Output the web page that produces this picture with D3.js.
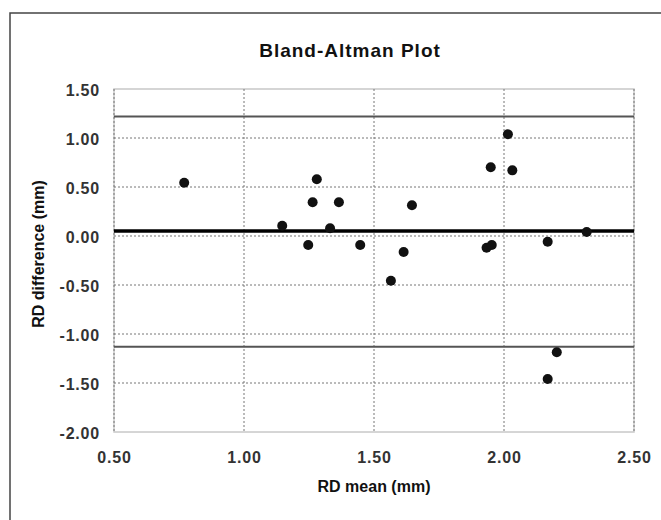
<!DOCTYPE html>
<html>
<head>
<meta charset="utf-8">
<script src="https://cdn.jsdelivr.net/npm/d3@7"></script>
<style>
  html, body { margin: 0; padding: 0; background: #fff; }
  svg { display: block; }
  text { font-family: "Liberation Sans", Arial, sans-serif; }
</style>
</head>
<body>
<svg id="chart" width="661" height="520"></svg>
<script>
// ---- data ----
const title = "Bland-Altman Plot";
const xLabel = "RD mean (mm)";
const yLabel = "RD difference (mm)";
const meanValues = [0.77, 1.147, 1.247, 1.264, 1.28, 1.331, 1.365, 1.447, 1.565, 1.614, 1.646,
                    1.933, 1.953, 1.949, 2.015, 2.032, 2.168, 2.318, 2.203, 2.168];
const diffValues = [0.544, 0.105, -0.092, 0.344, 0.579, 0.079, 0.344, -0.092, -0.456, -0.163, 0.313,
                    -0.119, -0.092, 0.701, 1.038, 0.67, -0.058, 0.041, -1.187, -1.459];
const meanDiff = 0.05;
const upperLimit = 1.22;
const lowerLimit = -1.13;
const xTicks = [0.5, 1.0, 1.5, 2.0, 2.5];
const yTicks = [1.5, 1.0, 0.5, 0.0, -0.5, -1.0, -1.5, -2.0];

// ---- layout ----
const svg = d3.select("#chart");
const plot = { left: 114, right: 634, top: 89, bottom: 432 };

const x = d3.scaleLinear().domain([0.5, 2.5]).range([plot.left, plot.right]);
const y = d3.scaleLinear().domain([-2.0, 1.5]).range([plot.bottom, plot.top]);
const fmt = d => d.toFixed(2);  // plain hyphen-minus like the original

// outer frame (extends past the visible window on right/bottom)
svg.append("rect")
  .attr("x", 10).attr("y", 13).attr("width", 700).attr("height", 560)
  .attr("fill", "none").attr("stroke", "#444").attr("stroke-width", 1.5);

// title
svg.append("text")
  .attr("x", 350).attr("y", 57)
  .attr("text-anchor", "middle")
  .attr("font-size", 19).attr("font-weight", "bold")
  .attr("letter-spacing", 1)
  .attr("fill", "#111")
  .text(title);

// plot border
svg.append("rect")
  .attr("x", plot.left).attr("y", plot.top)
  .attr("width", plot.right - plot.left).attr("height", plot.bottom - plot.top)
  .attr("fill", "none").attr("stroke", "#c8c8c8").attr("stroke-width", 1.5);

// grid lines
const grid = svg.append("g");
grid.selectAll("line.gx").data(xTicks).join("line")
  .attr("x1", d => x(d)).attr("x2", d => x(d))
  .attr("y1", plot.top).attr("y2", plot.bottom)
  .attr("stroke", "#777").attr("stroke-width", 1).attr("stroke-dasharray", "2,2");
grid.selectAll("line.gy").data(yTicks.filter(d => d !== -2.0 && d !== 1.5)).join("line")
  .attr("x1", plot.left).attr("x2", plot.right)
  .attr("y1", d => y(d)).attr("y2", d => y(d))
  .attr("stroke", "#777").attr("stroke-width", 1).attr("stroke-dasharray", "2,2");

// axes (labels only)
const xAxis = d3.axisBottom(x).tickValues(xTicks).tickFormat(fmt).tickSize(0).tickPadding(0);
const gx = svg.append("g").attr("transform", `translate(0,${plot.bottom})`).call(xAxis);
gx.select(".domain").remove();
gx.selectAll("text")
  .attr("y", 31).attr("dy", 0)
  .attr("font-family", "'Liberation Sans', Arial, sans-serif")
  .attr("font-size", 16).attr("font-weight", "bold")
  .attr("letter-spacing", 0.8)
  .attr("fill", "#333");

const yAxis = d3.axisLeft(y).tickValues(yTicks).tickFormat(fmt).tickSize(0).tickPadding(0);
const gy = svg.append("g").attr("transform", `translate(${plot.left - 14},0)`).call(yAxis);
gy.select(".domain").remove();
gy.selectAll("text")
  .attr("x", 0).attr("dy", "0.4em")
  .attr("font-family", "'Liberation Sans', Arial, sans-serif")
  .attr("font-size", 16).attr("font-weight", "bold")
  .attr("letter-spacing", 0.8)
  .attr("fill", "#333");

// axis titles
svg.append("text")
  .attr("x", (plot.left + plot.right) / 2).attr("y", 492)
  .attr("text-anchor", "middle")
  .attr("font-size", 16).attr("font-weight", "bold")
  .attr("fill", "#111")
  .text(xLabel);

svg.append("text")
  .attr("transform", `translate(44,254) rotate(-90)`)
  .attr("text-anchor", "middle")
  .attr("font-size", 16).attr("font-weight", "bold")
  .attr("fill", "#111")
  .text(yLabel);

// limits of agreement and mean difference
svg.append("line")
  .attr("x1", plot.left).attr("x2", plot.right)
  .attr("y1", y(upperLimit)).attr("y2", y(upperLimit))
  .attr("stroke", "#555").attr("stroke-width", 2);
svg.append("line")
  .attr("x1", plot.left).attr("x2", plot.right)
  .attr("y1", y(lowerLimit)).attr("y2", y(lowerLimit))
  .attr("stroke", "#555").attr("stroke-width", 2);
svg.append("line")
  .attr("x1", plot.left).attr("x2", plot.right)
  .attr("y1", y(meanDiff)).attr("y2", y(meanDiff))
  .attr("stroke", "#000").attr("stroke-width", 3.5);

// points
const pts = meanValues.map((m, i) => ({ m, d: diffValues[i] }));
svg.append("g").selectAll("circle").data(pts).join("circle")
  .attr("cx", p => x(p.m)).attr("cy", p => y(p.d))
  .attr("r", 5)
  .attr("fill", "#111");
</script>
</body>
</html>
